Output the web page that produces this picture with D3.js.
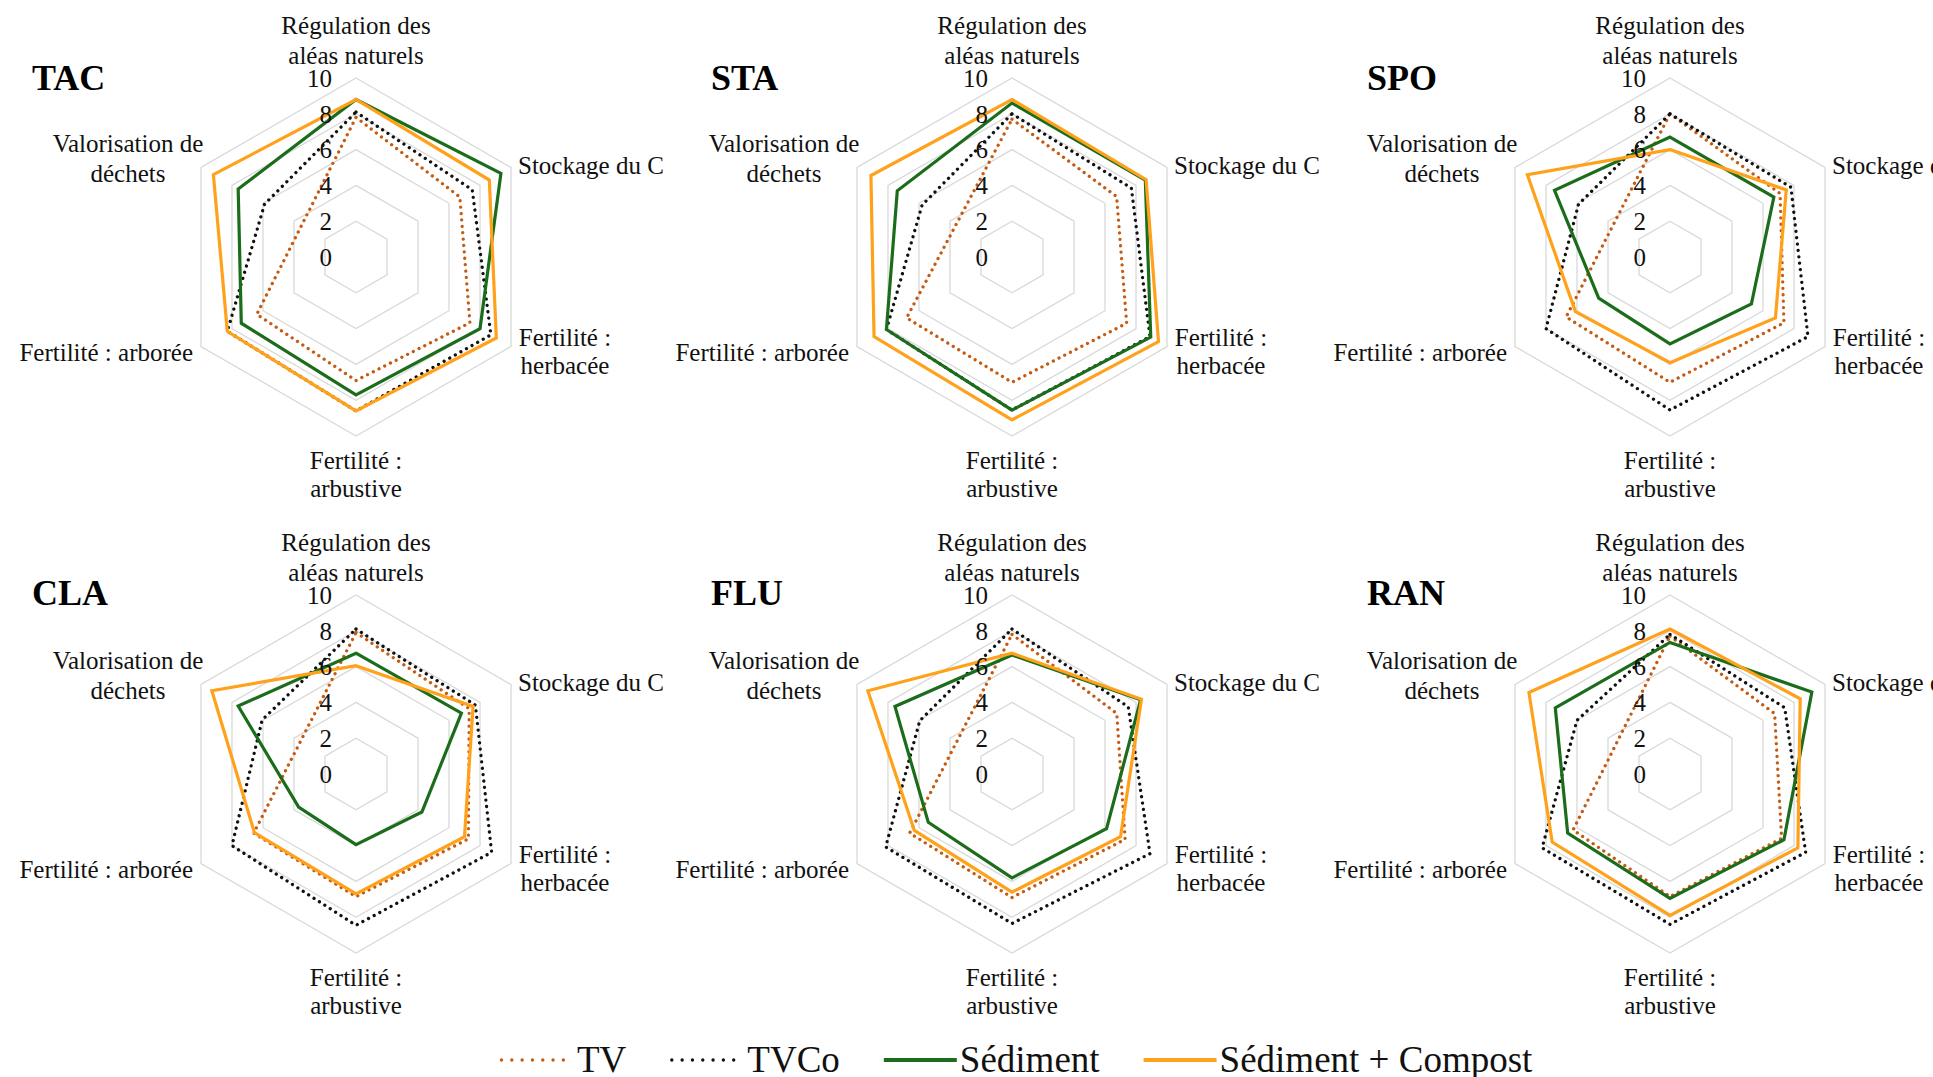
<!DOCTYPE html>
<html>
<head>
<meta charset="utf-8">
<script src="https://cdn.jsdelivr.net/npm/d3@7"></script>
<style>
  html, body { margin: 0; padding: 0; background: #ffffff; overflow: hidden; }
  svg { display: block; }
</style>
</head>
<body>
<svg id="chart"></svg>
<script>
// ---------------- DATA ----------------
const axisNames = ["Régulation des aléas naturels", "Stockage du C", "Fertilité : herbacée",
                   "Fertilité : arbustive", "Fertilité : arborée", "Valorisation de déchets"];
const axisLabelLines = [["Régulation des", "aléas naturels"], ["Stockage du C"], ["Fertilité :", "herbacée"],
                        ["Fertilité :", "arbustive"], ["Fertilité : arborée"], ["Valorisation de", "déchets"]];
const sites = ["TAC", "STA", "SPO", "CLA", "FLU", "RAN"];
const seriesNames = ["TV", "TVCo", "Sédiment", "Sédiment + Compost"];
const tickValues = [0, 2, 4, 6, 8, 10];
const gridLevels = [2, 4, 6, 8, 10];

// values per site, in axis order (null = no value)
const valuesTV = [
  [7.8, 6.7, 7.35, 6.9, 6.4, null],   // TAC
  [7.7, 6.75, 7.4, 7.0, 6.8, null],   // STA
  [8.0, 7.1, 7.35, 7.0, 6.7, null],   // SPO
  [7.9, 7.3, 7.25, 6.85, 6.6, null],  // CLA
  [7.8, 6.76, 7.3, 6.9, 6.6, null],   // FLU
  [7.7, 6.75, 7.2, 6.85, 6.25, null]  // RAN
];
const valuesTVCo = [
  [8.1, 7.5, 8.7, 8.6, 8.3, 5.9],
  [8.0, 7.7, 8.9, 8.55, 8.1, 5.8],
  [8.0, 7.8, 8.9, 8.55, 8.0, 5.9],
  [8.1, 7.7, 8.75, 8.45, 8.0, 6.05],
  [8.1, 7.5, 8.9, 8.35, 8.15, 5.95],
  [7.8, 7.4, 8.75, 8.4, 8.25, 6.0]
];
const valuesSediment = [
  [8.8, 9.35, 8.0, 7.7, 7.4, 7.6],
  [8.6, 8.6, 8.95, 8.55, 8.1, 7.4],
  [6.7, 6.7, 5.25, 4.85, 4.6, 7.45],
  [6.75, 6.8, 4.25, 3.95, 3.7, 7.6],
  [6.65, 8.3, 6.1, 5.8, 5.4, 7.55],
  [7.35, 9.15, 7.35, 6.95, 6.6, 7.4]
];
const valuesSedCompost = [
  [8.8, 8.6, 9.05, 8.6, 8.3, 9.2],
  [8.8, 8.65, 9.45, 9.1, 8.9, 9.1],
  [6.0, 7.5, 6.8, 5.9, 6.1, 9.2],
  [6.05, 7.55, 7.0, 6.7, 6.55, 9.3],
  [6.75, 8.35, 7.0, 6.6, 6.3, 9.3],
  [8.1, 8.4, 8.25, 7.9, 7.6, 9.1]
];
const seriesValues = [valuesTV, valuesTVCo, valuesSediment, valuesSedCompost];

// ---------------- STYLE / LAYOUT ----------------
const W = 1933, H = 1077;
const FONT = "'Liberation Serif', 'Times New Roman', serif";
const colors = ["#c55a11", "#111111", "#1b6d1b", "#ffa11a"];
const dotted = [true, true, false, false];
const colCenters = [356, 1012, 1670];
const rowCenters = [257, 774];
const titleX = [32, 711, 1367];
const titleY = [90, 605];
const R = 179;

const svg = d3.select("#chart").attr("width", W).attr("height", H)
  .style("font-family", FONT);

const rScale = d3.scaleLinear().domain([0, 10]).range([0, R]);
const angle = d3.scaleLinear().domain([0, axisNames.length]).range([0, 2 * Math.PI]);

const radial = d3.lineRadial()
  .angle(d => angle(d.i))
  .radius(d => rScale(d.v))
  .curve(d3.curveLinearClosed);

// label placement relative to panel centre (per axis)
const labelPlace = [
  { x: 0,    y: [-232, -201.5], anchor: "middle" },
  { x: 162,  y: [-92],          anchor: "start" },
  { x: 209,  y: [80, 108.5],    anchor: "middle" },
  { x: 0,    y: [203, 231.5],   anchor: "middle" },
  { x: -163, y: [95],           anchor: "end" },
  { x: -228, y: [-114, -84],    anchor: "middle" }
];

sites.forEach((site, s) => {
  const cx = colCenters[s % 3], cy = rowCenters[Math.floor(s / 3)];
  const g = svg.append("g").attr("transform", `translate(${cx},${cy})`);

  // grid hexagons
  g.selectAll("path.grid").data(gridLevels).join("path")
    .attr("class", "grid")
    .attr("d", lv => radial(axisNames.map((a, i) => ({ i, v: lv }))))
    .attr("fill", "none")
    .attr("stroke", "#d9d9d9")
    .attr("stroke-width", 1.3);

  // series
  seriesValues.forEach((vals, k) => {
    const pts = vals[s].map((v, i) => ({ i, v })).filter(d => d.v !== null);
    const p = g.append("path")
      .attr("d", radial(pts))
      .attr("fill", "none")
      .attr("stroke", colors[k])
      .attr("stroke-linejoin", "miter");
    if (dotted[k]) {
      p.attr("stroke-width", 3.3).attr("stroke-dasharray", "0.01 6.4").attr("stroke-linecap", "round");
    } else {
      p.attr("stroke-width", 3.2);
    }
  });

  // tick labels
  g.selectAll("text.tick").data(tickValues).join("text")
    .attr("class", "tick")
    .attr("x", -24)
    .attr("y", v => -rScale(v))
    .attr("dy", "0.35em")
    .attr("text-anchor", "end")
    .attr("font-size", 25)
    .attr("fill", "#111")
    .text(v => v);

  // axis labels
  axisLabelLines.forEach((lines, i) => {
    const lp = labelPlace[i];
    const t = g.append("text")
      .attr("text-anchor", lp.anchor)
      .attr("font-size", 25)
      .attr("fill", "#111");
    lines.forEach((ln, j) => {
      t.append("tspan").attr("x", lp.x).attr("y", lp.y[j]).attr("dy", "0.35em").text(ln);
    });
  });

  // site title
  svg.append("text")
    .attr("x", titleX[s % 3])
    .attr("y", titleY[Math.floor(s / 3)])
    .attr("font-size", 36)
    .attr("font-weight", "bold")
    .attr("fill", "#000")
    .text(site);
});

// ---------------- LEGEND ----------------
const legend = svg.append("g").attr("transform", "translate(0,1060)");
let lx = 500;
seriesNames.forEach((name, k) => {
  const len = dotted[k] ? 64 : 73;
  const gap = dotted[k] ? 13 : 3;
  const ln = legend.append("line")
    .attr("x1", lx).attr("x2", lx + len).attr("y1", 0).attr("y2", 0)
    .attr("stroke", colors[k]);
  if (dotted[k]) {
    ln.attr("stroke-width", 3.4).attr("stroke-dasharray", "0.01 10.3").attr("stroke-linecap", "round")
      .attr("x1", lx + 1.5);
  } else {
    ln.attr("stroke-width", 4.2);
  }
  const t = legend.append("text")
    .attr("x", lx + len + gap).attr("y", 12)
    .attr("font-size", 37)
    .attr("fill", "#111")
    .text(name);
  const w = t.node().getComputedTextLength();
  lx = lx + len + gap + w + 44;
});
</script>
</body>
</html>
